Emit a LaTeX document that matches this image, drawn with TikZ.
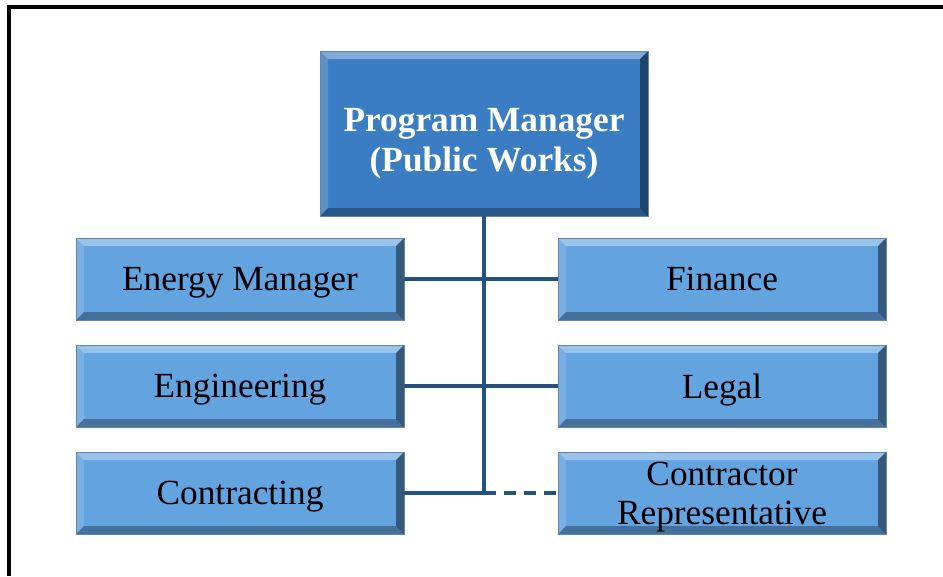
\documentclass[tikz,border=0pt]{standalone}
\usepackage{fontspec}
\setmainfont{Liberation Serif}
\usepackage{tikz}

\definecolor{topblue}{RGB}{58,125,194}
\definecolor{boxblue}{RGB}{98,163,224}
\definecolor{linkblue}{RGB}{36,82,128}

\begin{document}
\begin{tikzpicture}[x=0.75pt, y=-0.75pt,
    bevel/.style={path picture={
        \fill[white, opacity=.35] (path picture bounding box.north west) -- (path picture bounding box.north east)
            -- ([xshift=-6pt, yshift=-6pt]path picture bounding box.north east) -- ([xshift=6pt, yshift=-6pt]path picture bounding box.north west) -- cycle;
        \fill[white, opacity=.15] (path picture bounding box.north west) -- (path picture bounding box.south west)
            -- ([xshift=6pt, yshift=6pt]path picture bounding box.south west) -- ([xshift=6pt, yshift=-6pt]path picture bounding box.north west) -- cycle;
        \fill[black, opacity=.3] (path picture bounding box.south west) -- (path picture bounding box.south east)
            -- ([xshift=-6pt, yshift=6pt]path picture bounding box.south east) -- ([xshift=6pt, yshift=6pt]path picture bounding box.south west) -- cycle;
        \fill[black, opacity=.45] (path picture bounding box.north east) -- (path picture bounding box.south east)
            -- ([xshift=-6pt, yshift=6pt]path picture bounding box.south east) -- ([xshift=-6pt, yshift=-6pt]path picture bounding box.north east) -- cycle;
    }},
    unit/.style={bevel, fill=boxblue, draw=linkblue!70, line width=0.6pt, minimum width=246pt, minimum height=61.5pt,
        inner sep=0pt, text depth=0pt, align=center, font=\fontsize{26.5}{29}\selectfont},
    head/.style={bevel, fill=topblue, draw=linkblue!70, line width=0.6pt, minimum width=246pt, minimum height=123.75pt,
        inner sep=0pt, align=center, text=white, font=\bfseries\fontsize{26.5}{30}\selectfont},
    link/.style={draw=linkblue, line width=3pt}]
    \useasboundingbox (0,0) rectangle (943,576);
    \draw [line width=2.4pt] (943,7) -- (9,7) -- (9,576);

    \node [head] at (484,133.5) (pm) {\rule{0pt}{33pt}Program Manager\\(Public Works)};
    \node [unit] at (240,279) (em) {Energy Manager};
    \node [unit] at (240,386) (eng) {Engineering};
    \node [unit] at (240,493) (con) {Contracting};
    \node [unit] at (722,279) (fin) {Finance};
    \node [unit] at (722,386) (leg) {Legal};
    \node [unit] at (722,493) (rep) {Contractor\\Representative};
    \coordinate (j) at (pm.south |- con.east);

    \path [link] (pm.south) -- (j);
    \path [link] (em.east) -- (fin.west);
    \path [link] (eng.east) -- (leg.west);
    \path [link] (con.east) -- (j);
    \path [link, dash pattern=on 9pt off 6pt] (j) -- (rep.west);
\end{tikzpicture}
\end{document}
